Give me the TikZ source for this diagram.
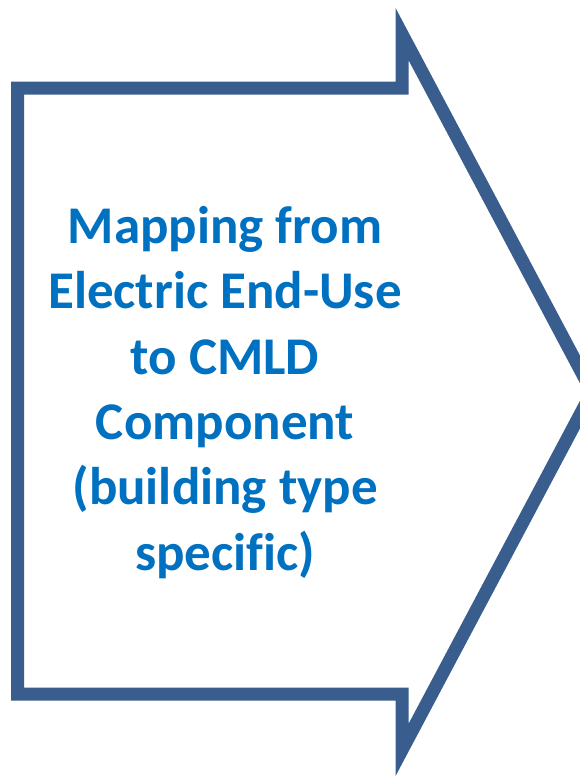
\documentclass[tikz,border=0pt]{standalone}
\usepackage{fontspec}
\setmainfont[Ligatures={TeX,NoCommon}]{Carlito}
\definecolor{arrowline}{HTML}{395D8C}
\definecolor{labelblue}{HTML}{0070C0}
\tikzset{
  x=1pt, y=1pt,
  arrowframe/.style={draw=arrowline, line width=13pt, line join=miter, fill=white},
  labeltext/.style={text=labelblue, align=center, inner sep=0pt,
    font=\fontsize{53}{65.3}\selectfont\bfseries}
}
\begin{document}
\begin{tikzpicture}
  \useasboundingbox (0,0) rectangle (579,-780);
  % block arrow outline
  \draw[arrowframe] (17.5,-88) -- (402,-88) -- (402,-34) -- (592,-392)
    -- (402,-750) -- (402,-694) -- (17.5,-694) -- cycle;
  % label, anchored at the baseline of its last line
  \node[labeltext, anchor=base] (label) at (225,-570)
    {Mapping from\\Electric End-Use\\to CMLD\\Component\\(building type\\specific)};
\end{tikzpicture}
\end{document}
